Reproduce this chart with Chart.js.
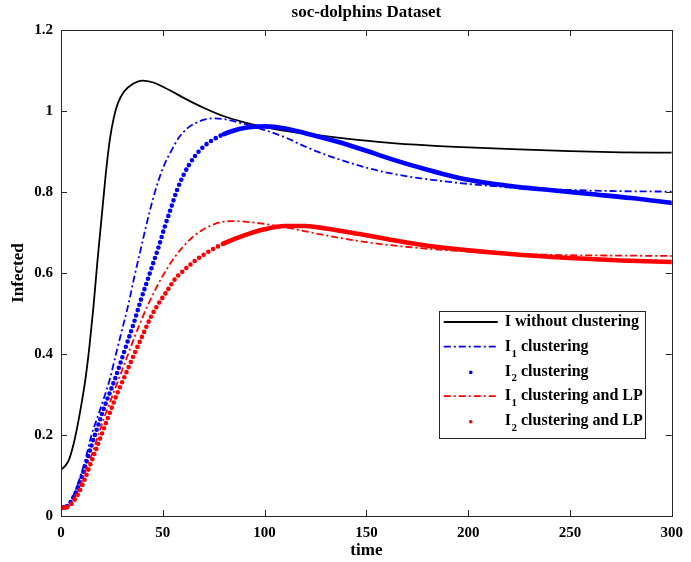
<!DOCTYPE html>
<html>
<head>
<meta charset="utf-8">
<script src="https://cdn.jsdelivr.net/npm/chart.js@4.4.1/dist/chart.umd.min.js"></script>
<style>
  html, body { margin: 0; padding: 0; background: #ffffff; }
  #wrap { width: 691px; height: 562px; position: relative; }
</style>
</head>
<body>
<div id="wrap"><canvas id="c" width="691" height="562"></canvas></div>
<script>
// Simulated fraction of infected nodes over time, soc-dolphins network
const titleText = 'soc-dolphins Dataset';
const xLabel = 'time';
const yLabel = 'Infected';

const seriesNames = ['I without clustering', 'I1 clustering', 'I2 clustering', 'I1 clustering and LP', 'I2 clustering and LP'];

const tBase = [0, 2, 4, 6, 8, 10, 12, 14, 16, 18, 20, 22, 24, 26, 28, 31, 35, 40, 45, 50, 55, 60, 70, 80, 90, 100, 110, 120, 140, 160, 180, 200, 225, 250, 275, 300];
const vBase = [0.115, 0.123, 0.14, 0.174, 0.22, 0.275, 0.338, 0.42, 0.52, 0.635, 0.74, 0.845, 0.93, 0.985, 1.02, 1.048, 1.066, 1.075, 1.071, 1.06, 1.047, 1.033, 1.008, 0.987, 0.972, 0.96, 0.951, 0.944, 0.932, 0.922, 0.915, 0.91, 0.905, 0.901, 0.898, 0.897];

const tI1 = [0, 3, 6, 9, 12, 15, 18, 21, 24, 27, 30, 33, 36, 39, 42, 45, 48, 51, 54, 58, 62, 66, 70, 75, 80, 90, 100, 110, 120, 130, 140, 150, 160, 175, 200, 225, 250, 275, 300];
const vI1 = [0.02, 0.025, 0.05, 0.09, 0.14, 0.2, 0.245, 0.29, 0.338, 0.4, 0.46, 0.52, 0.59, 0.655, 0.72, 0.78, 0.83, 0.87, 0.9, 0.935, 0.957, 0.97, 0.978, 0.982, 0.98, 0.968, 0.953, 0.935, 0.912, 0.892, 0.875, 0.86, 0.848, 0.835, 0.82, 0.81, 0.805, 0.802, 0.801];

const tI2 = [0, 3, 6, 9, 12, 15, 18, 21, 24, 27, 30, 33, 36, 39, 42, 45, 48, 51, 54, 57, 60, 63, 66, 70, 75, 80, 85, 90, 95, 100, 110, 120, 130, 140, 150, 160, 175, 200, 225, 240, 260, 280, 300];
const vI2 = [0.02, 0.024, 0.045, 0.08, 0.125, 0.175, 0.22, 0.265, 0.305, 0.345, 0.39, 0.435, 0.48, 0.53, 0.575, 0.62, 0.665, 0.715, 0.76, 0.805, 0.84, 0.868, 0.89, 0.912, 0.93, 0.943, 0.952, 0.958, 0.961, 0.962, 0.957, 0.945, 0.932, 0.918, 0.902, 0.885, 0.862, 0.83, 0.812, 0.805, 0.795, 0.785, 0.773];

const tI1LP = [0, 3, 6, 9, 12, 15, 18, 21, 24, 27, 30, 33, 36, 40, 44, 48, 52, 56, 60, 65, 70, 75, 80, 85, 90, 100, 110, 120, 130, 140, 150, 175, 200, 225, 250, 275, 300];
const vI1LP = [0.02, 0.023, 0.04, 0.07, 0.11, 0.15, 0.195, 0.24, 0.28, 0.32, 0.36, 0.4, 0.44, 0.49, 0.535, 0.575, 0.61, 0.64, 0.665, 0.69, 0.708, 0.72, 0.727, 0.728, 0.727, 0.721, 0.713, 0.703, 0.693, 0.684, 0.676, 0.662, 0.653, 0.647, 0.644, 0.643, 0.642];

const tI2LP = [0, 3, 6, 9, 12, 15, 18, 21, 24, 27, 30, 33, 36, 40, 44, 48, 52, 56, 60, 65, 70, 75, 80, 90, 100, 110, 120, 130, 140, 150, 160, 175, 200, 225, 250, 275, 300];
const vI2LP = [0.02, 0.022, 0.035, 0.06, 0.095, 0.135, 0.175, 0.215, 0.255, 0.295, 0.33, 0.365, 0.4, 0.445, 0.49, 0.525, 0.555, 0.585, 0.605, 0.627, 0.645, 0.66, 0.673, 0.693, 0.708, 0.716, 0.716, 0.71, 0.702, 0.693, 0.684, 0.671, 0.656, 0.645, 0.637, 0.631, 0.627];

const xTicks = [0, 50, 100, 150, 200, 250, 300];
const yTicks = [0, 0.2, 0.4, 0.6, 0.8, 1, 1.2];

const pts = (ts, vs) => ts.map((t, i) => ({ x: t, y: vs[i] }));

const SERIF = '"Liberation Serif", "Times New Roman", serif';
const BLUE = '#0000ff';
const RED = '#ff0000';
const DASHDOT = [7, 3, 2, 3];
const DOTS = [0, 5.5];

// dotted curves: separate dots where the curve climbs steeply, continuous where it flattens
const dotSegment = {
  borderDash: ctx => {
    const dx = Math.abs(ctx.p1.x - ctx.p0.x);
    const dy = Math.abs(ctx.p1.y - ctx.p0.y);
    return dy > 0.5 * dx ? DOTS : [];
  }
};

const styles = [
  { color: '#000000', width: 1.8, dash: [], kind: 'line' },
  { color: BLUE, width: 1.8, dash: DASHDOT, kind: 'line' },
  { color: BLUE, width: 4.6, dash: DOTS, kind: 'dots' },
  { color: RED, width: 1.8, dash: DASHDOT, kind: 'line' },
  { color: RED, width: 4.6, dash: DOTS, kind: 'dots' }
];

const seriesData = [pts(tBase, vBase), pts(tI1, vI1), pts(tI2, vI2), pts(tI1LP, vI1LP), pts(tI2LP, vI2LP)];

const datasets = seriesData.map((d, i) => {
  const s = styles[i];
  const ds = {
    label: seriesNames[i],
    data: d,
    borderColor: s.color,
    backgroundColor: s.color,
    borderWidth: s.width,
    borderDash: s.dash,
    pointRadius: 0,
    fill: false,
    cubicInterpolationMode: 'monotone',
    borderCapStyle: s.kind === 'dots' ? 'round' : 'butt',
    order: 5 - i
  };
  if (s.kind === 'dots') ds.segment = dotSegment;
  return ds;
});

// frame with inward ticks on all four sides, plus the title
const framePlugin = {
  id: 'frame',
  afterDatasetsDraw(chart) {
    const { ctx, chartArea: a, scales: { x, y } } = chart;
    ctx.save();
    ctx.strokeStyle = '#262626';
    ctx.lineWidth = 1;
    ctx.setLineDash([]);
    ctx.strokeRect(Math.round(a.left) + 0.5, Math.round(a.top) + 0.5, Math.round(a.right - a.left), Math.round(a.bottom - a.top));
    const L = 6;
    ctx.beginPath();
    xTicks.forEach(v => {
      const px = Math.round(x.getPixelForValue(v)) + 0.5;
      ctx.moveTo(px, a.bottom); ctx.lineTo(px, a.bottom - L);
      ctx.moveTo(px, a.top); ctx.lineTo(px, a.top + L);
    });
    yTicks.forEach(v => {
      const py = Math.round(y.getPixelForValue(v)) + 0.5;
      ctx.moveTo(a.left, py); ctx.lineTo(a.left + L, py);
      ctx.moveTo(a.right, py); ctx.lineTo(a.right - L, py);
    });
    ctx.stroke();

    ctx.fillStyle = '#000';
    ctx.font = 'bold 17px ' + SERIF;
    ctx.textAlign = 'center';
    ctx.textBaseline = 'middle';
    ctx.fillText(titleText, (a.left + a.right) / 2, 13);
    ctx.restore();
  }
};

// boxed legend in the lower right of the plot, with subscripted series names
const legendPlugin = {
  id: 'boxLegend',
  afterDraw(chart) {
    const { ctx, chartArea: a } = chart;
    const box = { left: a.right - 233, right: a.right - 27, top: a.bottom - 205, bottom: a.bottom - 78 };
    ctx.save();
    ctx.fillStyle = '#ffffff';
    ctx.fillRect(box.left, box.top, box.right - box.left, box.bottom - box.top);
    ctx.strokeStyle = '#262626';
    ctx.lineWidth = 1;
    ctx.strokeRect(Math.round(box.left) + 0.5, Math.round(box.top) + 0.5, Math.round(box.right - box.left), Math.round(box.bottom - box.top));
    const rowH = 24.7;
    const y0 = box.top + 11;
    const lineX0 = box.left + 5, lineX1 = box.left + 59;
    const textX = box.left + 66;
    chart.data.datasets.forEach((ds, i) => {
      const yy = y0 + i * rowH;
      const s = styles[i];
      if (s.kind === 'line') {
        ctx.strokeStyle = s.color;
        ctx.lineWidth = s.width;
        ctx.setLineDash(s.dash);
        ctx.beginPath();
        ctx.moveTo(lineX0, yy); ctx.lineTo(lineX1, yy);
        ctx.stroke();
        ctx.setLineDash([]);
      } else {
        ctx.fillStyle = s.color;
        ctx.beginPath();
        ctx.arc((lineX0 + lineX1) / 2, yy + 1, 1.8, 0, Math.PI * 2);
        ctx.fill();
      }
      // label: leading letter, optional subscript digit, rest of the text
      const label = ds.label;
      ctx.fillStyle = '#000';
      ctx.textBaseline = 'middle';
      ctx.textAlign = 'left';
      let x = textX;
      ctx.font = 'bold 16px ' + SERIF;
      ctx.fillText(label[0], x, yy);
      x += ctx.measureText(label[0]).width;
      let rest = label.slice(1);
      if (/^[0-9]/.test(rest)) {
        ctx.font = 'bold 11px ' + SERIF;
        ctx.fillText(rest[0], x + 0.5, yy + 7);
        x += ctx.measureText(rest[0]).width + 0.5;
        rest = rest.slice(1);
      }
      ctx.font = 'bold 16px ' + SERIF;
      ctx.fillText(rest, x, yy);
    });
    ctx.restore();
  }
};

new Chart(document.getElementById('c'), {
  type: 'line',
  data: { datasets },
  options: {
    responsive: false,
    animation: false,
    devicePixelRatio: 1,
    layout: { padding: { left: 0, right: 15, top: 30, bottom: 0 } },
    plugins: {
      legend: { display: false },
      title: { display: false },
      tooltip: { enabled: false }
    },
    scales: {
      x: {
        type: 'linear',
        min: 0,
        max: 300,
        afterBuildTicks: s => { s.ticks = xTicks.map(v => ({ value: v })); },
        ticks: { color: '#000', font: { family: SERIF, size: 15, weight: 'bold' }, padding: 8, maxRotation: 0 },
        grid: { display: false, drawTicks: false },
        border: { display: false },
        title: { display: true, text: xLabel, color: '#000', font: { family: SERIF, size: 17, weight: 'bold' }, padding: { top: 0, bottom: 1 } },
        afterFit: s => { s.height = 46; }
      },
      y: {
        type: 'linear',
        min: 0,
        max: 1.2,
        afterBuildTicks: s => { s.ticks = yTicks.map(v => ({ value: v })); },
        ticks: {
          color: '#000',
          font: { family: SERIF, size: 15, weight: 'bold' },
          padding: 8,
          callback: v => String(Math.round(v * 10) / 10)
        },
        grid: { display: false, drawTicks: false },
        border: { display: false },
        title: { display: true, text: yLabel, color: '#000', font: { family: SERIF, size: 17, weight: 'bold' }, padding: { top: 8, bottom: 0 } },
        afterFit: s => { s.width = 61; }
      }
    }
  },
  plugins: [framePlugin, legendPlugin]
});
</script>
</body>
</html>
